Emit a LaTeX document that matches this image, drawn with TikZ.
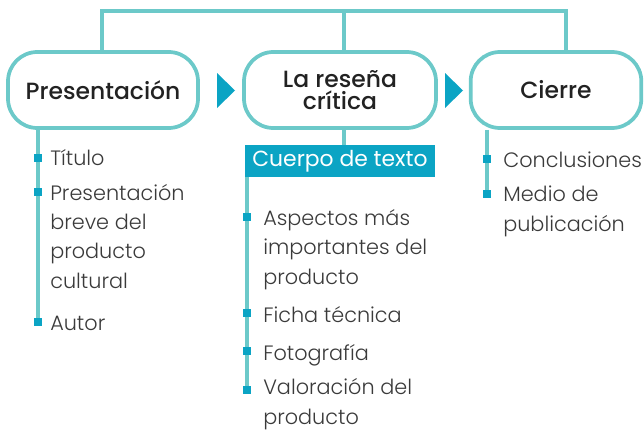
\documentclass[tikz,border=0pt]{standalone}
\usepackage{fontspec}
\setmainfont{Poppins Light}
\newfontfamily\headfont{Poppins Medium}
\newfontfamily\labfont{Poppins}
\definecolor{tealline}{HTML}{6CC9C9}
\definecolor{cyanfill}{HTML}{0BA4C4}
\definecolor{txt}{HTML}{3A3A3A}
\definecolor{headtxt}{HTML}{222222}
\tikzset{
  topbox/.style={draw=tealline, line width=2.8pt, rounded corners=22pt, fill=white,
    minimum height=57pt, text=headtxt, font=\headfont\fontsize{17.6}{17}\selectfont, align=center, inner sep=0pt},
  conn/.style={draw=tealline, line width=2.4pt},
  arrowtri/.style={fill=cyanfill},
  bulletsq/.style={fill=cyanfill, minimum size=6pt, inner sep=0pt},
  itemtxt/.style={anchor=base west, inner sep=0pt, align=left, text=txt, font=\fontsize{15.6}{22}\selectfont},
  headbar/.style={fill=cyanfill, text=white, font=\labfont\fontsize{16.4}{18}\selectfont, minimum width=142.5pt, minimum height=24pt, inner sep=0pt}
}
\begin{document}
\begin{tikzpicture}[x=0.75pt,y=-0.75pt]
\useasboundingbox (0,0) rectangle (644,432);
% boxes
\node[topbox, minimum width=142.5pt] (b1) at (103,90) {Presentación};
\node[topbox, minimum width=144pt] (b2) at (340,90) {La reseña\\crítica};
\node[topbox, minimum width=128pt] (b3) at (556,90) {Cierre};
% triangles
\fill[arrowtri] (217,73) -- (217,108) -- (235,90.5) -- cycle;
\fill[arrowtri] (445,73) -- (445,108) -- (463,90.5) -- cycle;
% top connector
\coordinate (t1) at (102,11);
\coordinate (t2) at (344,11);
\coordinate (t3) at (566,11);
\draw[conn] (b1.north -| t1) -- (t1) -- (t3) -- (b3.north -| t3);
\draw[conn] (b2.north -| t2) -- (t2);
% Cuerpo de texto bar
\node[headbar] (cb) at (340,161) {Cuerpo de texto};
\draw[conn] (b2.south -| t2) -- (cb.north -| t2);
% left list
\coordinate (l0) at (38,128);
\coordinate (l1) at (38,322);
\draw[conn] (b1.south -| l0) -- (l1);
\node[bulletsq] (lb1) at (38,158) {};
\node[bulletsq] (lb2) at (38,192) {};
\node[bulletsq] (lb3) at (38,322) {};
\node[itemtxt] (li1) at (50,166) {Título};
\node[itemtxt] (li2) at (50,288) {Presentación\\breve del\\producto\\cultural};
\node[itemtxt] (li3) at (50,330) {Autor};
% middle list
\coordinate (m1) at (247,390);
\draw[conn] (cb.south -| m1) -- (m1);
\node[bulletsq] (mb1) at (247,217) {};
\node[bulletsq] (mb2) at (247,313) {};
\node[bulletsq] (mb3) at (247,351) {};
\node[bulletsq] (mb4) at (247,390) {};
\node[itemtxt] (mi1) at (263,284) {Aspectos más\\importantes del\\producto};
\node[itemtxt] (mi2) at (263,322) {Ficha técnica};
\node[itemtxt] (mi3) at (263,360) {Fotografía};
\node[itemtxt] (mi4) at (263,424) {Valoración del\\producto};
% right list
\coordinate (r0) at (487,128);
\coordinate (r1) at (487,194);
\draw[conn] (b3.south -| r0) -- (r1);
\node[bulletsq] (rb1) at (487,159) {};
\node[bulletsq] (rb2) at (487,194) {};
\node[itemtxt] (ri1) at (503,167) {Conclusiones};
\node[itemtxt] (ri2) at (503,231) {Medio de\\publicación};
\end{tikzpicture}
\end{document}
